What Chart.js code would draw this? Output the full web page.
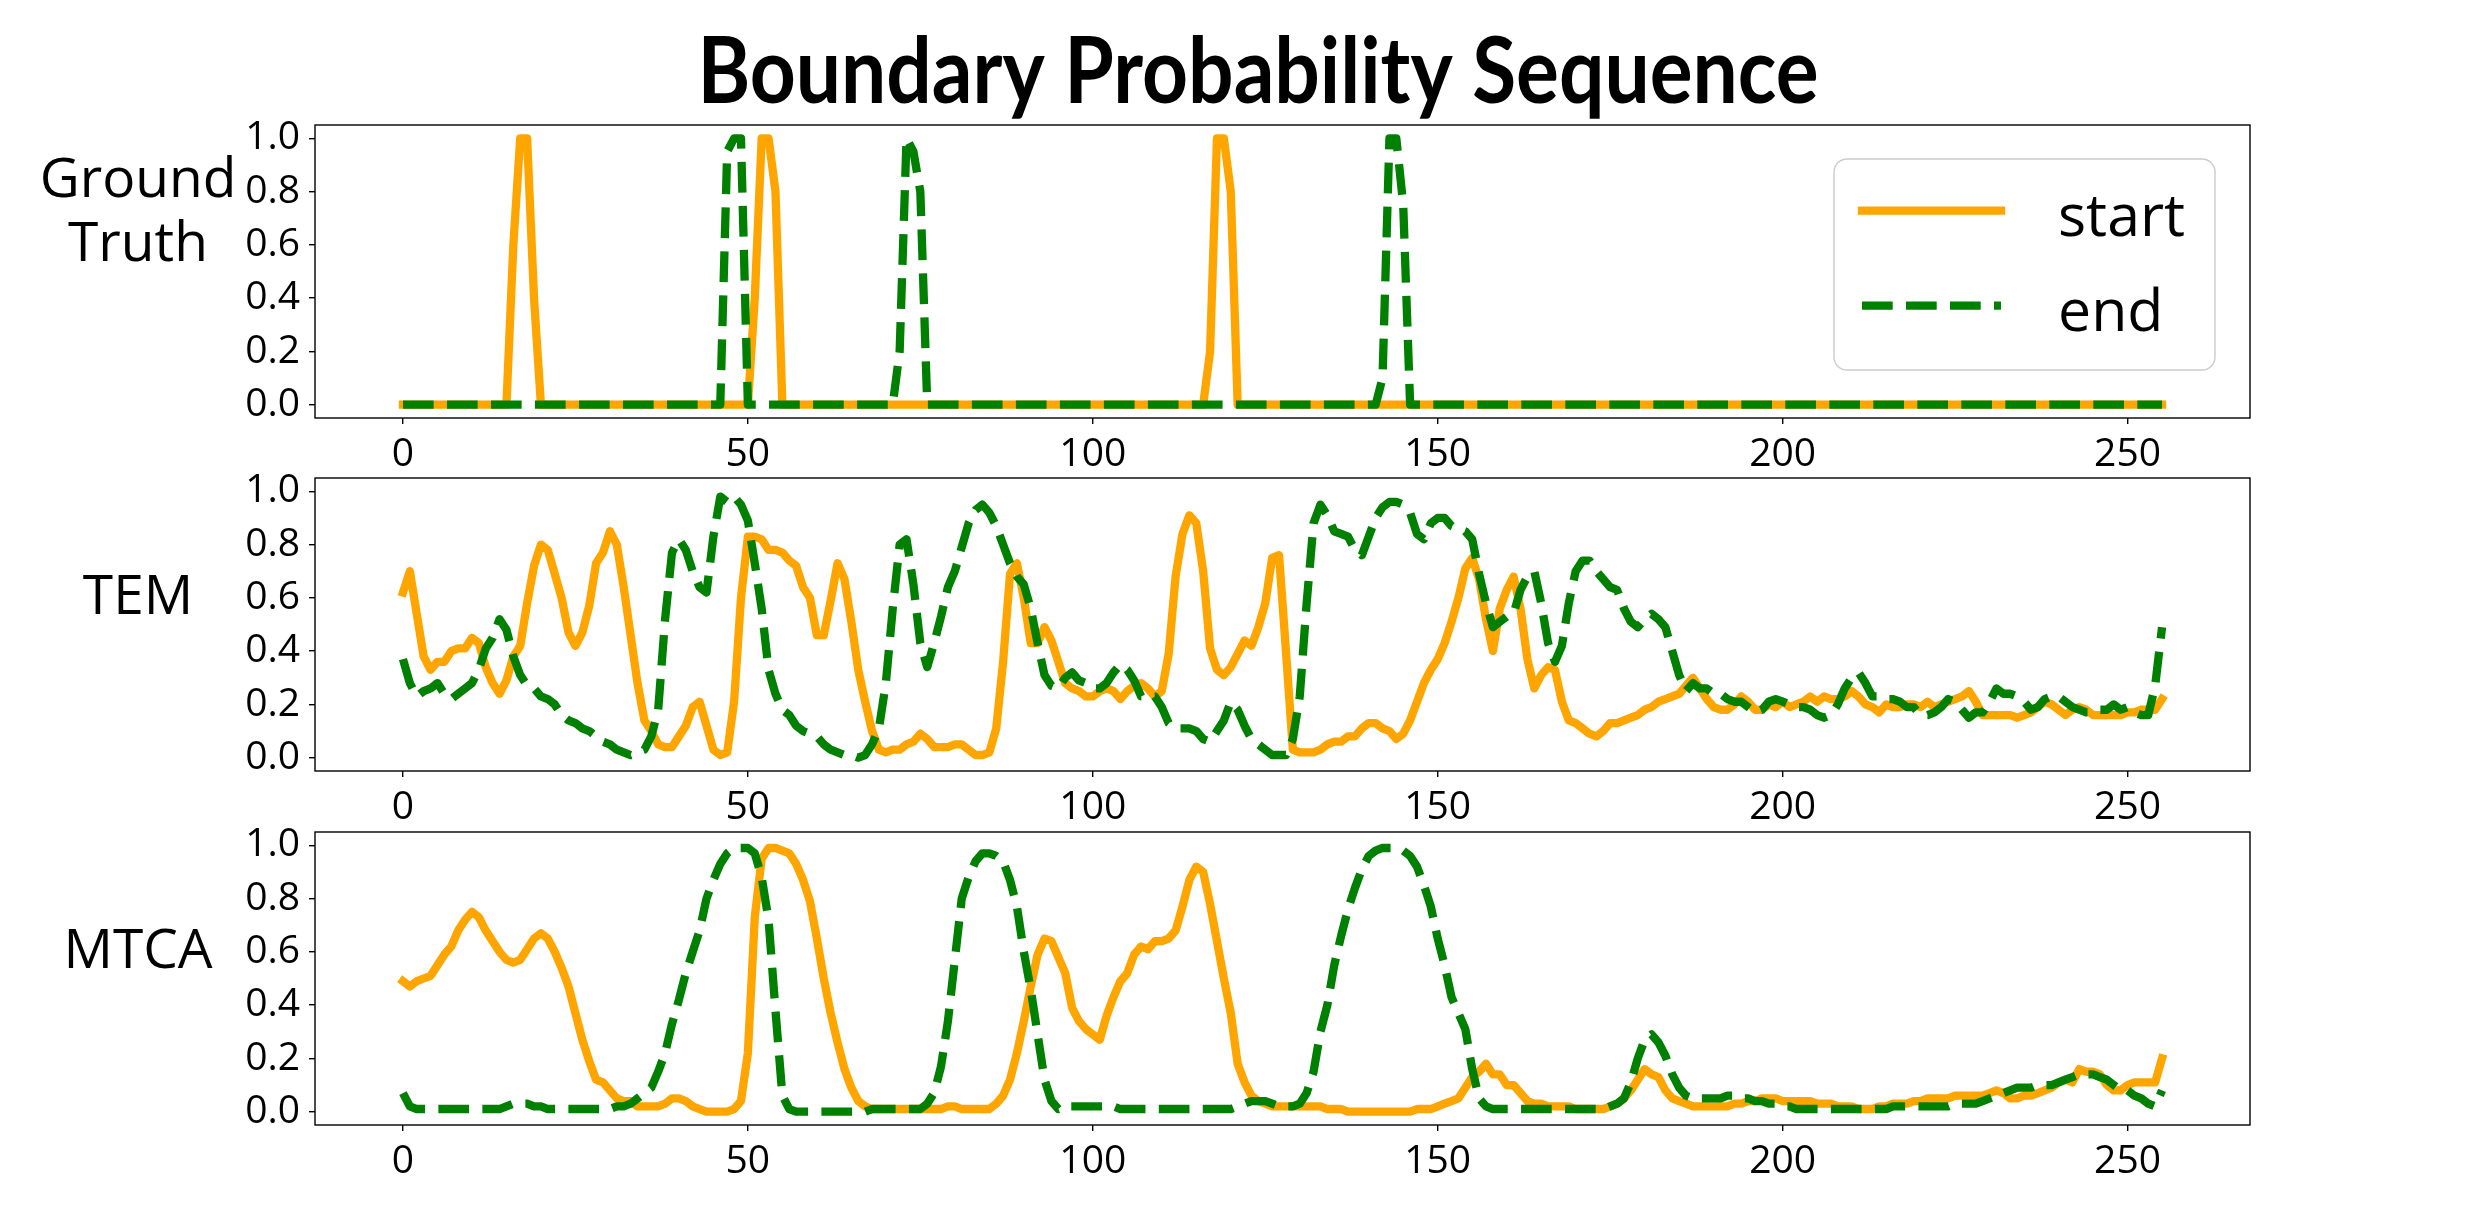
<!DOCTYPE html>
<html>
<head>
<meta charset="utf-8">
<title>Boundary Probability Sequence</title>
<script src="https://cdn.jsdelivr.net/npm/chart.js@4.4.1/dist/chart.umd.min.js"></script>
<style>
  html, body { margin: 0; padding: 0; background: #fff; }
  #page { position: relative; width: 2487px; height: 1214px; overflow: hidden; background: #fff; }
  canvas { position: absolute; left: 0; }
</style>
</head>
<body>
<div id="page">
  <canvas id="gtChart" width="2487" height="470" style="top:0px"></canvas>
  <canvas id="temChart" width="2487" height="382" style="top:440px"></canvas>
  <canvas id="mtcaChart" width="2487" height="422" style="top:792px"></canvas>
</div>
<script>
// frame index of every sample (x axis categories)
const frames = Array.from({length: 256}, (_, i) => i);
const xTicks = [0, 50, 100, 150, 200, 250];
const yTicks = [0.0, 0.2, 0.4, 0.6, 0.8, 1.0];
const seriesNames = ['start', 'end'];
const rowNames = [['Ground', 'Truth'], ['TEM'], ['MTCA']];
const chartTitle = 'Boundary Probability Sequence';

const gtStart = [
  0,0,0,0,0,0,0,0,0,0,0,0,0,0,0,0,
  0.6,1,1,0.4,0,0,0,0,0,0,0,0,0,0,0,0,
  0,0,0,0,0,0,0,0,0,0,0,0,0,0,0,0,
  0,0,0,0.4,1,1,0.8,0,0,0,0,0,0,0,0,0,
  0,0,0,0,0,0,0,0,0,0,0,0,0,0,0,0,
  0,0,0,0,0,0,0,0,0,0,0,0,0,0,0,0,
  0,0,0,0,0,0,0,0,0,0,0,0,0,0,0,0,
  0,0,0,0,0,0.2,1,1,0.8,0,0,0,0,0,0,0,
  0,0,0,0,0,0,0,0,0,0,0,0,0,0,0,0,
  0,0,0,0,0,0,0,0,0,0,0,0,0,0,0,0,
  0,0,0,0,0,0,0,0,0,0,0,0,0,0,0,0,
  0,0,0,0,0,0,0,0,0,0,0,0,0,0,0,0,
  0,0,0,0,0,0,0,0,0,0,0,0,0,0,0,0,
  0,0,0,0,0,0,0,0,0,0,0,0,0,0,0,0,
  0,0,0,0,0,0,0,0,0,0,0,0,0,0,0,0,
  0,0,0,0,0,0,0,0,0,0,0,0,0,0,0,0
];
const gtEnd = [
  0,0,0,0,0,0,0,0,0,0,0,0,0,0,0,0,
  0,0,0,0,0,0,0,0,0,0,0,0,0,0,0,0,
  0,0,0,0,0,0,0,0,0,0,0,0,0,0,0,0.95,
  1,1,0,0,0,0,0,0,0,0,0,0,0,0,0,0,
  0,0,0,0,0,0,0,0,0.2,1,0.95,0.8,0,0,0,0,
  0,0,0,0,0,0,0,0,0,0,0,0,0,0,0,0,
  0,0,0,0,0,0,0,0,0,0,0,0,0,0,0,0,
  0,0,0,0,0,0,0,0,0,0,0,0,0,0,0,0,
  0,0,0,0,0,0,0,0,0,0,0,0,0,0,0.1,1,
  1,0.75,0,0,0,0,0,0,0,0,0,0,0,0,0,0,
  0,0,0,0,0,0,0,0,0,0,0,0,0,0,0,0,
  0,0,0,0,0,0,0,0,0,0,0,0,0,0,0,0,
  0,0,0,0,0,0,0,0,0,0,0,0,0,0,0,0,
  0,0,0,0,0,0,0,0,0,0,0,0,0,0,0,0,
  0,0,0,0,0,0,0,0,0,0,0,0,0,0,0,0,
  0,0,0,0,0,0,0,0,0,0,0,0,0,0,0,0
];

const temStart = [
  0.62,0.70,0.54,0.38,0.33,0.36,0.36,0.40,0.41,0.41,0.45,0.43,0.34,0.28,0.24,0.29,
  0.38,0.42,0.58,0.72,0.80,0.78,0.69,0.60,0.47,0.42,0.47,0.57,0.73,0.77,0.85,0.80,
  0.64,0.46,0.28,0.14,0.10,0.05,0.04,0.04,0.08,0.12,0.19,0.21,0.12,0.03,0.01,0.02,
  0.21,0.60,0.83,0.83,0.82,0.78,0.78,0.77,0.74,0.72,0.64,0.60,0.46,0.46,0.59,0.73,
  0.67,0.51,0.33,0.21,0.10,0.03,0.02,0.03,0.03,0.05,0.06,0.09,0.07,0.04,0.04,0.04,
  0.05,0.05,0.03,0.01,0.01,0.02,0.11,0.36,0.69,0.73,0.60,0.43,0.43,0.49,0.44,0.36,
  0.28,0.26,0.25,0.23,0.23,0.25,0.26,0.25,0.22,0.25,0.27,0.28,0.26,0.23,0.25,0.39,
  0.68,0.84,0.91,0.88,0.70,0.41,0.33,0.31,0.34,0.39,0.44,0.42,0.49,0.58,0.75,0.76,
  0.40,0.03,0.02,0.02,0.02,0.03,0.05,0.06,0.06,0.08,0.08,0.11,0.13,0.13,0.11,0.10,
  0.07,0.09,0.14,0.21,0.28,0.33,0.37,0.43,0.51,0.60,0.71,0.75,0.67,0.52,0.40,0.56,
  0.63,0.68,0.56,0.37,0.26,0.31,0.34,0.33,0.21,0.14,0.13,0.11,0.09,0.08,0.10,0.13,
  0.13,0.14,0.15,0.16,0.18,0.19,0.21,0.22,0.23,0.24,0.27,0.30,0.26,0.22,0.19,0.18,
  0.18,0.20,0.23,0.21,0.18,0.18,0.20,0.19,0.21,0.19,0.20,0.21,0.23,0.21,0.23,0.22,
  0.22,0.23,0.25,0.23,0.20,0.19,0.17,0.20,0.19,0.19,0.20,0.20,0.19,0.21,0.19,0.20,
  0.21,0.22,0.23,0.25,0.21,0.16,0.16,0.16,0.16,0.16,0.15,0.16,0.17,0.19,0.21,0.20,
  0.18,0.16,0.18,0.19,0.18,0.16,0.16,0.16,0.16,0.16,0.17,0.17,0.18,0.18,0.18,0.22
];
const temEnd = [
  0.37,0.28,0.23,0.25,0.26,0.28,0.24,0.22,0.24,0.26,0.28,0.33,0.41,0.45,0.52,0.48,
  0.38,0.31,0.27,0.26,0.23,0.22,0.20,0.16,0.14,0.13,0.11,0.10,0.08,0.06,0.05,0.03,
  0.02,0.01,0.02,0.03,0.08,0.18,0.52,0.77,0.82,0.78,0.70,0.64,0.62,0.83,0.98,0.96,
  0.98,0.95,0.89,0.73,0.56,0.33,0.24,0.18,0.16,0.12,0.10,0.09,0.08,0.05,0.03,0.02,
  0.01,0.01,0.00,0.01,0.05,0.11,0.28,0.56,0.80,0.82,0.65,0.43,0.34,0.43,0.53,0.64,
  0.70,0.79,0.88,0.93,0.95,0.92,0.87,0.80,0.73,0.68,0.65,0.56,0.43,0.31,0.27,0.26,
  0.30,0.32,0.29,0.28,0.26,0.26,0.28,0.32,0.35,0.33,0.29,0.23,0.23,0.23,0.19,0.13,
  0.11,0.11,0.11,0.10,0.07,0.06,0.10,0.14,0.21,0.18,0.12,0.07,0.05,0.03,0.01,0.01,
  0.01,0.07,0.23,0.58,0.88,0.95,0.91,0.85,0.84,0.83,0.78,0.76,0.83,0.90,0.94,0.96,
  0.96,0.95,0.92,0.84,0.82,0.88,0.90,0.90,0.87,0.86,0.85,0.82,0.69,0.58,0.49,0.51,
  0.53,0.54,0.63,0.68,0.70,0.58,0.43,0.36,0.42,0.58,0.70,0.74,0.74,0.70,0.67,0.64,
  0.63,0.56,0.51,0.49,0.52,0.54,0.52,0.49,0.40,0.31,0.25,0.28,0.26,0.26,0.24,0.24,
  0.22,0.21,0.21,0.19,0.17,0.18,0.21,0.22,0.21,0.20,0.19,0.19,0.18,0.16,0.15,0.16,
  0.20,0.26,0.30,0.32,0.28,0.23,0.23,0.22,0.22,0.21,0.19,0.19,0.16,0.16,0.17,0.19,
  0.22,0.21,0.18,0.15,0.17,0.17,0.21,0.26,0.24,0.24,0.23,0.21,0.18,0.19,0.22,0.23,
  0.23,0.21,0.19,0.18,0.17,0.17,0.18,0.18,0.20,0.18,0.19,0.17,0.16,0.16,0.27,0.49
];

const mtcaStart = [
  0.49,0.47,0.49,0.50,0.51,0.55,0.59,0.62,0.68,0.72,0.75,0.73,0.68,0.64,0.60,0.57,
  0.56,0.57,0.61,0.65,0.67,0.65,0.60,0.54,0.47,0.37,0.27,0.19,0.12,0.11,0.08,0.05,
  0.04,0.04,0.02,0.02,0.02,0.02,0.03,0.05,0.05,0.04,0.02,0.01,0.00,0.00,0.00,0.00,
  0.01,0.04,0.22,0.73,0.95,0.99,0.99,0.98,0.97,0.93,0.87,0.79,0.65,0.50,0.37,0.26,
  0.16,0.09,0.04,0.02,0.01,0.01,0.01,0.01,0.01,0.01,0.01,0.01,0.01,0.01,0.01,0.02,
  0.02,0.01,0.01,0.01,0.01,0.01,0.03,0.06,0.12,0.22,0.34,0.47,0.59,0.65,0.64,0.58,
  0.52,0.39,0.34,0.31,0.29,0.27,0.36,0.43,0.49,0.52,0.59,0.62,0.61,0.64,0.64,0.65,
  0.68,0.77,0.87,0.92,0.90,0.78,0.64,0.50,0.37,0.18,0.11,0.06,0.04,0.03,0.02,0.02,
  0.02,0.02,0.02,0.02,0.02,0.02,0.01,0.01,0.01,0.00,0.00,0.00,0.00,0.00,0.00,0.00,
  0.00,0.00,0.00,0.01,0.01,0.01,0.02,0.03,0.04,0.05,0.09,0.13,0.15,0.18,0.14,0.14,
  0.10,0.10,0.07,0.04,0.03,0.03,0.02,0.02,0.02,0.02,0.01,0.01,0.01,0.01,0.01,0.02,
  0.03,0.05,0.08,0.12,0.16,0.14,0.13,0.08,0.05,0.04,0.03,0.02,0.02,0.02,0.02,0.02,
  0.02,0.03,0.03,0.04,0.04,0.05,0.05,0.05,0.04,0.04,0.04,0.04,0.04,0.03,0.03,0.03,
  0.02,0.02,0.02,0.01,0.01,0.01,0.02,0.02,0.03,0.03,0.03,0.04,0.04,0.05,0.05,0.05,
  0.05,0.06,0.06,0.06,0.06,0.06,0.07,0.08,0.07,0.05,0.05,0.06,0.06,0.07,0.08,0.09,
  0.11,0.12,0.11,0.16,0.15,0.15,0.14,0.10,0.08,0.08,0.10,0.11,0.11,0.11,0.11,0.20
];
const mtcaEnd = [
  0.07,0.02,0.01,0.01,0.01,0.01,0.01,0.01,0.01,0.01,0.01,0.01,0.01,0.01,0.01,0.02,
  0.03,0.03,0.03,0.02,0.02,0.01,0.01,0.01,0.01,0.01,0.01,0.01,0.01,0.01,0.01,0.02,
  0.02,0.03,0.05,0.07,0.09,0.15,0.22,0.33,0.42,0.52,0.60,0.68,0.80,0.87,0.93,0.97,
  0.99,0.99,0.99,0.97,0.88,0.72,0.38,0.06,0.01,0.00,0.00,0.00,0.00,0.00,0.00,0.00,
  0.00,0.00,0.00,0.00,0.01,0.01,0.01,0.01,0.01,0.01,0.01,0.01,0.03,0.07,0.17,0.34,
  0.57,0.80,0.88,0.94,0.97,0.97,0.96,0.94,0.87,0.77,0.60,0.46,0.29,0.12,0.04,0.01,
  0.02,0.02,0.02,0.02,0.02,0.02,0.02,0.02,0.01,0.01,0.01,0.01,0.01,0.01,0.01,0.01,
  0.01,0.01,0.01,0.01,0.01,0.01,0.01,0.01,0.01,0.02,0.03,0.04,0.04,0.04,0.03,0.02,
  0.02,0.02,0.03,0.07,0.15,0.30,0.40,0.55,0.66,0.76,0.84,0.91,0.96,0.98,0.99,0.99,
  0.99,0.98,0.96,0.92,0.85,0.77,0.65,0.55,0.43,0.37,0.31,0.16,0.05,0.02,0.01,0.01,
  0.01,0.01,0.01,0.01,0.01,0.01,0.01,0.01,0.01,0.01,0.01,0.01,0.01,0.01,0.01,0.02,
  0.03,0.05,0.11,0.20,0.27,0.29,0.26,0.21,0.14,0.09,0.06,0.05,0.05,0.05,0.05,0.05,
  0.06,0.06,0.05,0.05,0.04,0.04,0.03,0.03,0.02,0.02,0.01,0.01,0.01,0.01,0.01,0.01,
  0.01,0.01,0.01,0.01,0.01,0.01,0.01,0.01,0.02,0.02,0.02,0.02,0.02,0.02,0.02,0.02,
  0.02,0.03,0.03,0.03,0.03,0.04,0.05,0.06,0.07,0.08,0.09,0.09,0.09,0.10,0.10,0.10,
  0.11,0.12,0.13,0.14,0.14,0.14,0.13,0.12,0.10,0.08,0.08,0.06,0.05,0.03,0.02,0.08
];

// page geometry of the plot boxes (matplotlib-like layout)
const AREA_LEFT = 315;
const AREA_RIGHT = 2250;
const LINE_W = 8.3;
const FONT = '"Open Sans", sans-serif';

Chart.defaults.font.family = FONT;
Chart.defaults.color = '#000';

// box around the plotting area, drawn over the lines like matplotlib spines
const framePlugin = {
    id: 'frame',
    afterDatasetsDraw(chart) {
        const {ctx, chartArea} = chart;
        ctx.save();
        ctx.strokeStyle = '#000';
        ctx.lineWidth = 1.4;
        ctx.strokeRect(chartArea.left, chartArea.top, chartArea.width, chartArea.height);
        ctx.restore();
    }
};

// bold narrow title above the first panel
const panelTitlePlugin = {
    id: 'panelTitle',
    afterDraw(chart, args, opts) {
        if (!opts.text) return;
        const {ctx} = chart;
        ctx.save();
        ctx.font = 'bold 92px Lato, ' + FONT;
        const natural = ctx.measureText(opts.text).width;
        const sx = Math.min(1, opts.width / natural);
        ctx.translate(opts.x, opts.baseline);
        ctx.scale(sx, 1);
        ctx.fillStyle = '#000';
        ctx.textAlign = 'center';
        ctx.textBaseline = 'alphabetic';
        ctx.fillText(opts.text, 0, 0);
        ctx.restore();
    }
};

// horizontal row label on the left of each panel
const rowLabelPlugin = {
    id: 'rowLabel',
    afterDraw(chart, args, opts) {
        const {ctx, chartArea} = chart;
        const mid = (chartArea.top + chartArea.bottom) / 2;
        const lines = opts.lines || [];
        ctx.save();
        ctx.font = '55px ' + FONT;
        ctx.fillStyle = '#000';
        ctx.textAlign = 'center';
        ctx.textBaseline = 'alphabetic';
        lines.forEach((line, k) => {
            ctx.fillText(line, 138, mid - 11 - (lines.length - 1 - k) * 64);
        });
        ctx.restore();
    }
};

// legend box inside the upper right corner of the first panel
const boxLegendPlugin = {
    id: 'boxLegend',
    afterDraw(chart) {
        const {ctx, chartArea} = chart;
        const w = 381, h = 211, r = 13;
        const x = chartArea.right - 35 - w;
        const y = chartArea.top + 34;
        ctx.save();
        ctx.beginPath();
        ctx.moveTo(x + r, y);
        ctx.arcTo(x + w, y, x + w, y + h, r);
        ctx.arcTo(x + w, y + h, x, y + h, r);
        ctx.arcTo(x, y + h, x, y, r);
        ctx.arcTo(x, y, x + w, y, r);
        ctx.closePath();
        ctx.fillStyle = 'rgba(255,255,255,0.8)';
        ctx.fill();
        ctx.strokeStyle = '#cccccc';
        ctx.lineWidth = 1.4;
        ctx.stroke();

        const items = chart.data.datasets.slice().sort((a, b) => b.order - a.order);
        items.forEach((ds, k) => {
            const ly = y + 51.7 + k * 95;
            ctx.beginPath();
            ctx.setLineDash(ds.borderDash || []);
            ctx.lineCap = ds.borderCapStyle;
            ctx.strokeStyle = ds.borderColor;
            ctx.lineWidth = ds.borderWidth;
            ctx.moveTo(x + 28, ly);
            ctx.lineTo(x + 167, ly);
            ctx.stroke();
            ctx.setLineDash([]);
            ctx.fillStyle = '#000';
            ctx.font = '59px ' + FONT;
            ctx.textAlign = 'left';
            ctx.textBaseline = 'alphabetic';
            ctx.fillText(ds.label, x + 224, ly + 25);
        });
        ctx.restore();
    }
};

function makeDatasets(startValues, endValues) {
    return [
        {
            label: seriesNames[0],
            data: frames.map((f, k) => ({x: f, y: startValues[k]})),
            borderColor: 'orange',
            borderWidth: LINE_W,
            borderCapStyle: 'square',
            borderJoinStyle: 'round',
            pointRadius: 0,
            tension: 0,
            fill: false,
            order: 1
        },
        {
            label: seriesNames[1],
            data: frames.map((f, k) => ({x: f, y: endValues[k]})),
            borderColor: 'green',
            borderWidth: LINE_W,
            borderDash: [30.7, 13.3],
            borderCapStyle: 'butt',
            borderJoinStyle: 'round',
            pointRadius: 0,
            tension: 0,
            fill: false,
            order: 0
        }
    ];
}

function makeOptions(cfg) {
    return {
        responsive: false,
        animation: false,
        events: [],
        layout: {padding: {top: cfg.padTop, right: 2487 - AREA_RIGHT, bottom: 0, left: 0}},
        plugins: {
            legend: {display: false},
            tooltip: {enabled: false},
            title: {display: false},
            panelTitle: cfg.title ? {text: cfg.title, x: 1258, baseline: 103, width: 1121} : {},
            rowLabel: {lines: cfg.rowLabel}
        },
        scales: {
            x: {
                type: 'linear',
                min: -12.75,
                max: 267.75,
                grid: {drawOnChartArea: false, drawTicks: true, tickLength: 6, color: '#000', lineWidth: 1.4},
                border: {display: false},
                ticks: {
                    stepSize: xTicks[1] - xTicks[0],
                    includeBounds: false,
                    autoSkip: false,
                    maxRotation: 0,
                    padding: 11,
                    color: '#000',
                    font: {size: 39, lineHeight: 1},
                    callback: v => (xTicks.includes(v) ? String(v) : '')
                },
                afterFit: s => { s.height = cfg.xHeight; s.paddingLeft = 0; s.paddingRight = 0; }
            },
            y: {
                type: 'linear',
                min: -0.05,
                max: 1.05,
                grid: {drawOnChartArea: false, drawTicks: true, tickLength: 6, color: '#000', lineWidth: 1.4},
                border: {display: false},
                ticks: {
                    stepSize: yTicks[1] - yTicks[0],
                    includeBounds: false,
                    padding: 9,
                    color: '#000',
                    font: {size: 39, lineHeight: 1},
                    callback: v => Number(v).toFixed(1)
                },
                afterFit: s => { s.width = AREA_LEFT; s.paddingTop = 0; s.paddingBottom = 0; }
            }
        }
    };
}

new Chart(document.getElementById('gtChart'), {
    type: 'line',
    data: {datasets: makeDatasets(gtStart, gtEnd)},
    options: makeOptions({title: chartTitle, padTop: 125, xHeight: 52, rowLabel: rowNames[0]}),
    plugins: [framePlugin, panelTitlePlugin, rowLabelPlugin, boxLegendPlugin]
});

new Chart(document.getElementById('temChart'), {
    type: 'line',
    data: {datasets: makeDatasets(temStart, temEnd)},
    options: makeOptions({padTop: 38, xHeight: 51, rowLabel: rowNames[1]}),
    plugins: [framePlugin, rowLabelPlugin]
});

new Chart(document.getElementById('mtcaChart'), {
    type: 'line',
    data: {datasets: makeDatasets(mtcaStart, mtcaEnd)},
    options: makeOptions({padTop: 40, xHeight: 89, rowLabel: rowNames[2]}),
    plugins: [framePlugin, rowLabelPlugin]
});
</script>
</body>
</html>
